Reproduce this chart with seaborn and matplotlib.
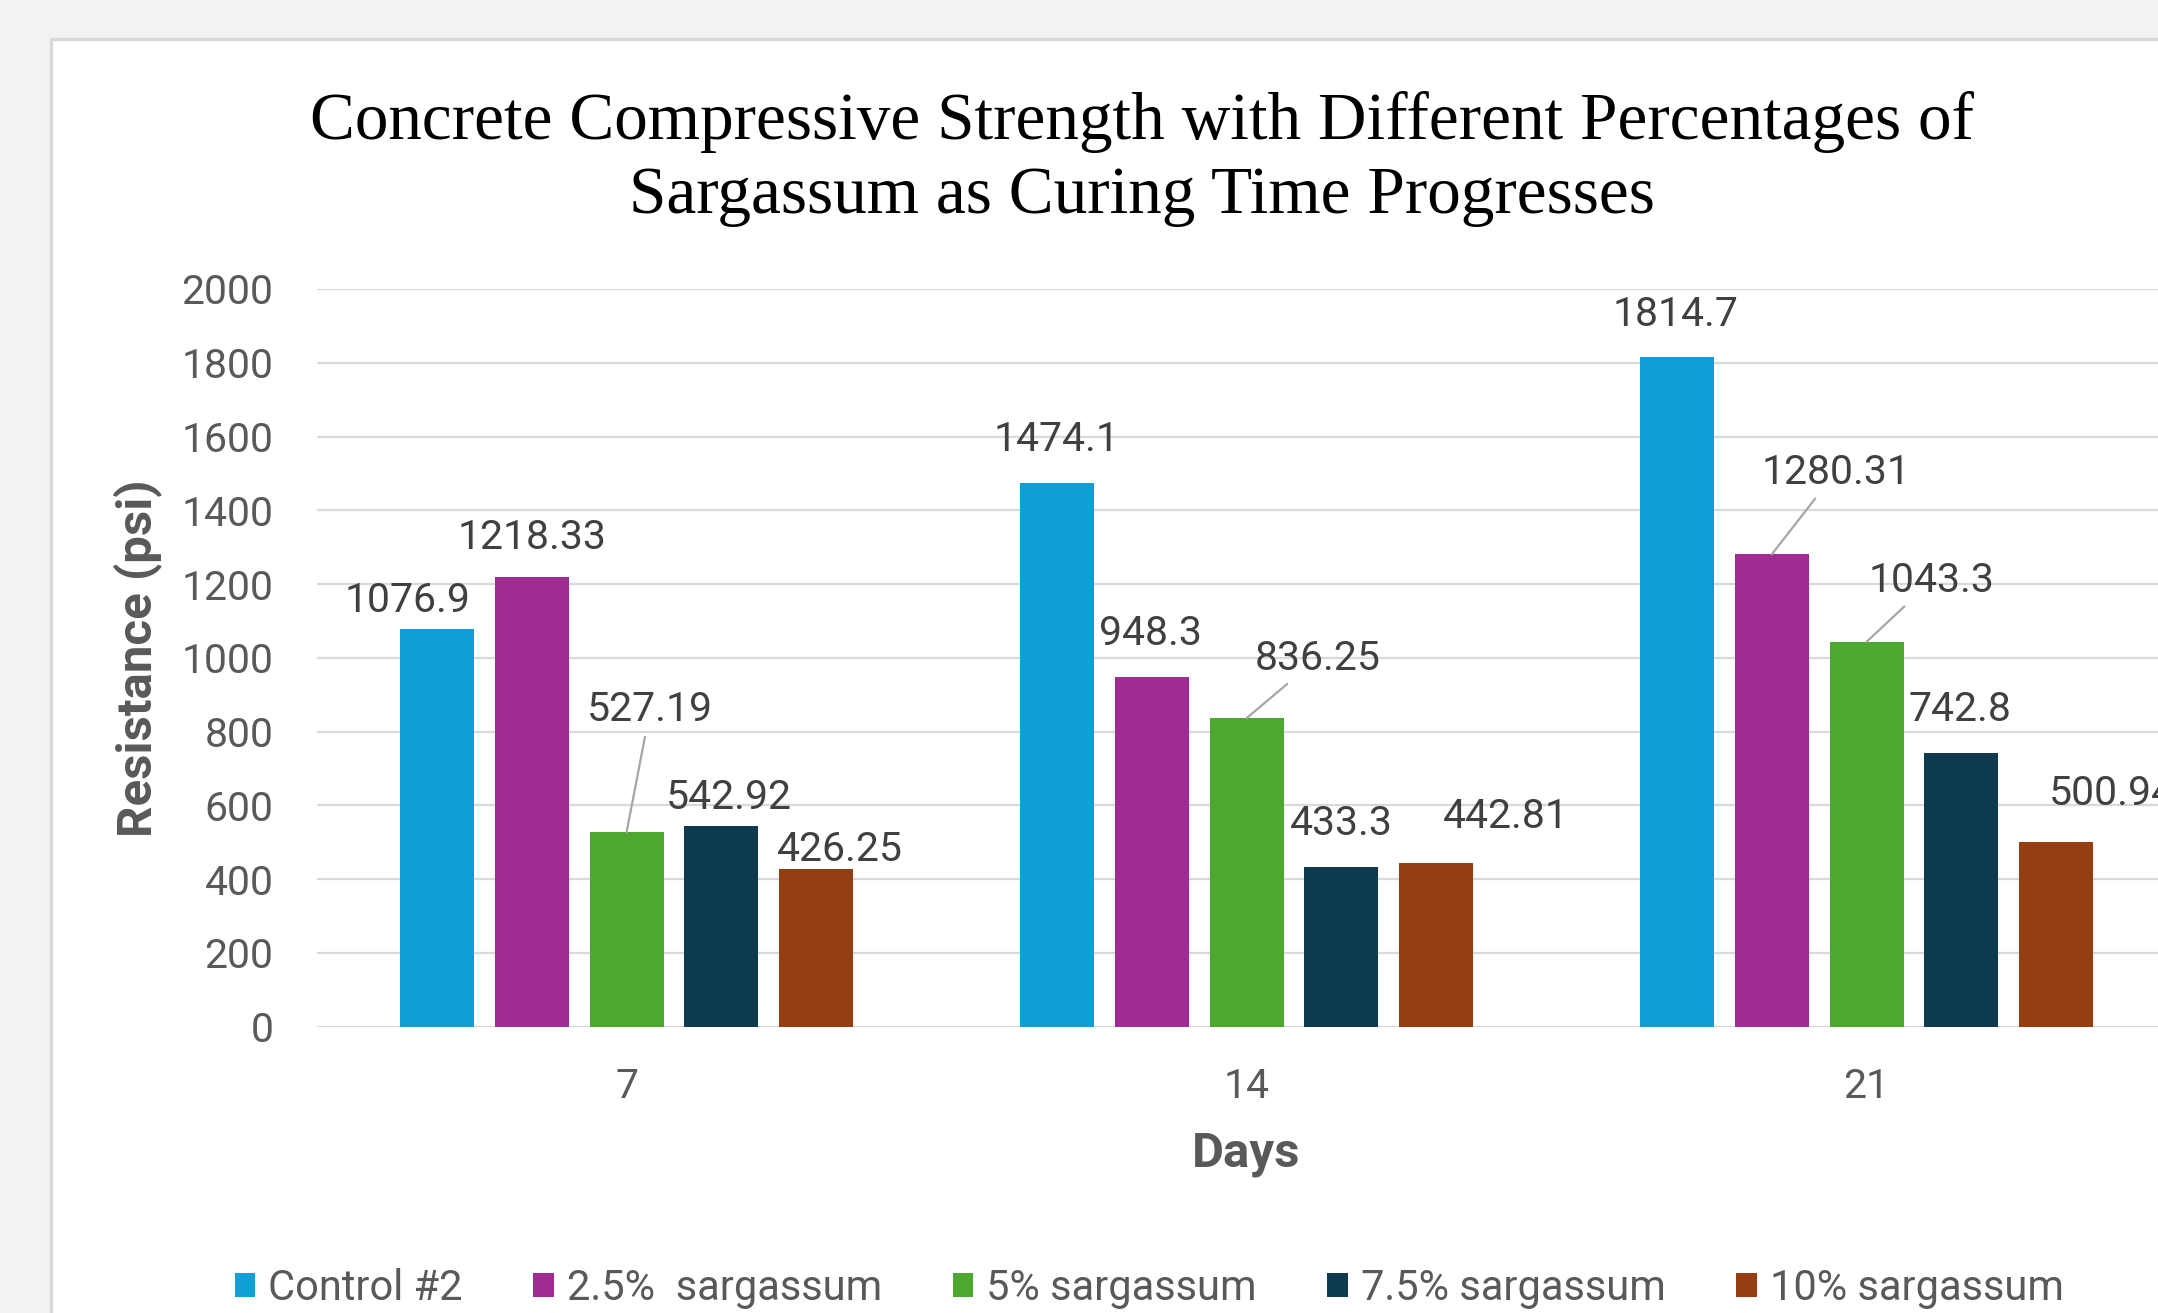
import matplotlib
matplotlib.use("Agg")
import matplotlib.pyplot as plt
from matplotlib.patches import Rectangle
import pandas as pd
import seaborn as sns

days = ["7", "14", "21"]
series = ["Control #2", "2.5%  sargassum", "5% sargassum", "7.5% sargassum", "10% sargassum"]
control = [1076.9, 1474.1, 1814.7]
sarg_2_5 = [1218.33, 948.3, 1280.31]
sarg_5 = [527.19, 836.25, 1043.3]
sarg_7_5 = [542.92, 433.3, 742.8]
sarg_10 = [426.25, 442.81, 500.94]
y_ticks = [0, 200, 400, 600, 800, 1000, 1200, 1400, 1600, 1800, 2000]

colors = ["#0F9ED5", "#A02B93", "#4EA72E", "#0E3A50", "#973D12"]

# data label offsets (points) from the bar top, [series][day]
label_dx = [[-21, 0, -1], [0, -1, 46], [17, 51, 47], [5, 0, -1], [17, 50, 40]]
label_dy = [[21, 31, 31], [29, 31, 59], [88, 43, 44], [21, 31, 31], [14, 34, 35]]
leaders = [[False, False, False], [False, False, True], [True, True, True],
           [False, False, False], [False, False, False]]

values = [control, sarg_2_5, sarg_5, sarg_7_5, sarg_10]
rows = []
for name, vals in zip(series, values):
    for d, v in zip(days, vals):
        rows.append({"day": d, "series": name, "value": v})
df = pd.DataFrame(rows)

sns.set_theme(style="white")
plt.rcParams["font.family"] = ["Roboto", "DejaVu Sans"]

W, H = 2158, 1313
fig = plt.figure(figsize=(W / 100, H / 100), dpi=100, facecolor="#f2f2f2")

# white chart area with light border (cropped on the right and bottom)
fig.patches.append(Rectangle((51 / W, -0.1), 1.2, 0.1 + (H - 39) / H,
                             transform=fig.transFigure, facecolor="white",
                             edgecolor="#d9d9d9", lw=2.5, zorder=-5))

ax = fig.add_axes([0.1467, 0.2181, 0.8619, 0.5618])
ax.set_facecolor("white")

sns.barplot(data=df, x="day", y="value", hue="series", order=days, hue_order=series,
            palette=colors, saturation=1, width=0.765, gap=0.22, linewidth=0, ax=ax)

leg = ax.get_legend()
handles = leg.legend_handles
labels = [t.get_text() for t in leg.get_texts()]
leg.remove()

ax.set_ylim(0, 2000)
ax.set_xlim(-0.5, 2.5)
ax.set_yticks(y_ticks)
ax.yaxis.grid(True, color="#d9d9d9", lw=1.6)
ax.set_axisbelow(True)
for s in ax.spines.values():
    s.set_visible(False)
ax.tick_params(axis="y", length=0, pad=31, labelsize=29.5, labelcolor="#595959")
ax.tick_params(axis="x", length=0, pad=29, labelsize=29.5, labelcolor="#595959")

ax.set_ylabel("Resistance (psi)", fontsize=35.5, fontweight="bold", color="#595959")
ax.yaxis.set_label_coords(-0.083, 0.5)
ax.set_xlabel("Days", fontsize=35.5, fontweight="bold", color="#595959")
ax.xaxis.set_label_coords(0.5, -0.142)

for i, cont in enumerate(ax.containers):
    for j, bar in enumerate(cont):
        x = bar.get_x() + bar.get_width() / 2
        y = bar.get_height()
        arrow = None
        if leaders[i][j]:
            arrow = dict(arrowstyle="-", color="#a6a6a6", lw=1.6, shrinkA=3, shrinkB=0)
        ax.annotate(f"{y:g}", xy=(x, y), xytext=(label_dx[i][j], label_dy[i][j]),
                    textcoords="offset points", ha="center", va="center",
                    fontsize=29.5, color="#404040", arrowprops=arrow,
                    annotation_clip=False)

fig.text(0.529, 0.879,
         "Concrete Compressive Strength with Different Percentages of\n"
         "Sargassum as Curing Time Progresses",
         ha="center", va="center", fontsize=48.4, family="Liberation Serif",
         color="black", linespacing=1.28)

fig.legend(handles, labels, loc="center", bbox_to_anchor=(0.5325, 0.019), ncol=5,
           frameon=False, fontsize=30, handlelength=0.5, handleheight=0.5,
           handletextpad=0.3, columnspacing=1.7, labelcolor="#595959")

fig.savefig("out.png", dpi=100, facecolor=fig.get_facecolor())
